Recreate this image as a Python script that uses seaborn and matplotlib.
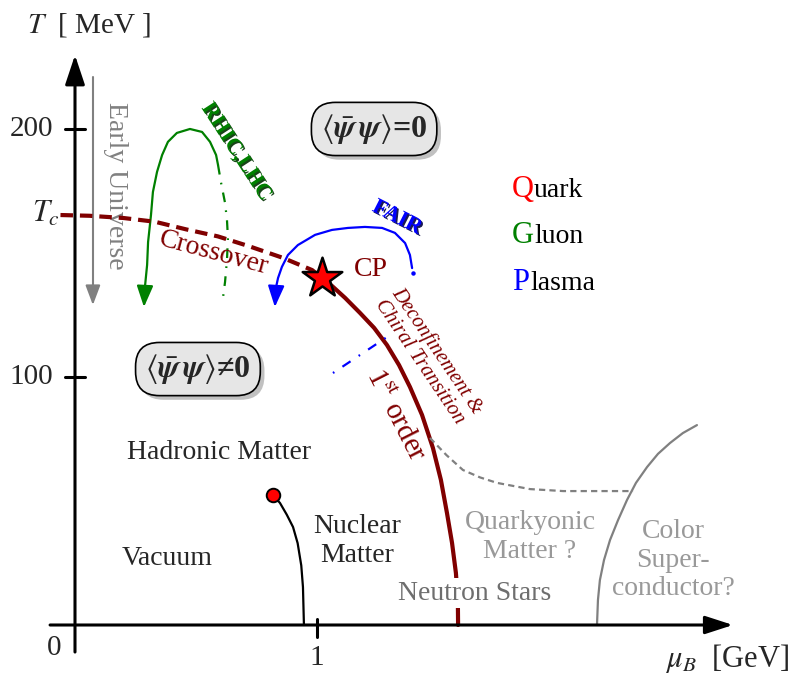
import matplotlib
matplotlib.use("Agg")
import matplotlib.pyplot as plt
import matplotlib.patheffects as pe
import seaborn as sns

# ---------------- data (mu_B in GeV, T in MeV) -------------
crossover_mu = [-0.06, 0.06, 0.20, 0.33, 0.46, 0.59, 0.72, 0.86, 0.98, 1.02]
crossover_T = [165.3, 165.0, 164.1, 162.6, 159.5, 156.7, 152.7, 148.0, 143.1, 140.0]

cp_mu = [1.02]
cp_T = [140.0]

first_order_mu = [1.021, 1.062, 1.116, 1.178, 1.236, 1.289, 1.339, 1.384, 1.434,
                  1.479, 1.512, 1.537, 1.558, 1.574, 1.582, 1.583]
first_order_T = [139.9, 136.7, 131.9, 125.8, 119.8, 112.9, 104.8, 96.0, 84.7,
                 71.4, 58.5, 45.2, 33.1, 21.0, 10.1, 0.0]

nuclear_mu = [0.818, 0.847, 0.875, 0.901, 0.920, 0.935, 0.942, 0.946]
nuclear_T = [52.4, 49.2, 44.5, 39.5, 33.0, 24.0, 15.3, 0.0]

quarkyonic_mu = [1.467, 1.535, 1.603, 1.674, 1.744, 1.880, 2.017, 2.306]
quarkyonic_T = [75.4, 68.5, 62.5, 59.5, 57.3, 54.8, 54.0, 54.0]

csc_mu = [2.157, 2.161, 2.169, 2.186, 2.211, 2.244, 2.281, 2.318, 2.364, 2.409,
          2.459, 2.512, 2.570]
csc_T = [0.0, 10.1, 18.1, 26.2, 34.3, 42.3, 50.4, 57.3, 63.7, 69.0, 73.4, 77.4, 80.6]

rhic_mu = [0.591, 0.583, 0.558, 0.525, 0.475, 0.421, 0.384, 0.360, 0.339, 0.322,
           0.314, 0.302, 0.298, 0.289]
rhic_T = [185.5, 189.5, 194.8, 198.8, 200.0, 198.4, 194.8, 189.5, 182.7, 174.6,
          165.3, 154.4, 145.2, 136.3]
rhic_tip = (0.285, 128.2)
rhic_tail_mu = [0.591, 0.603, 0.620, 0.628, 0.632, 0.628, 0.620, 0.612]
rhic_tail_T = [185.5, 178.6, 170.2, 163.3, 156.0, 147.2, 138.3, 132.3]

fair_mu = [1.393, 1.384, 1.364, 1.322, 1.269, 1.198, 1.128, 1.062, 0.992, 0.921,
           0.880, 0.855, 0.839, 0.831]
fair_T = [143.9, 149.2, 154.0, 158.1, 160.1, 160.5, 160.1, 159.3, 157.3, 153.2,
          149.2, 144.4, 139.9, 136.3]
fair_tip = (0.826, 128.2)
fair_dot = (1.397, 141.9)
fair_tail_mu = [1.066, 1.289]
fair_tail_T = [101.6, 116.1]

early_mu = 0.074
early_T = (221.0, 129.0)

T_ticks = [100, 200]
T_tick_labels = ["100", "200"]
mu_ticks = [1]
Tc_value = 165.3

# ---------------- style ----------------
sns.set_style("white")
plt.rcParams["font.family"] = ["Liberation Serif", "DejaVu Serif"]
plt.rcParams["mathtext.fontset"] = "stix"
plt.rcParams["lines.scale_dashes"] = False

DARKRED = "#800000"
GREEN = "#008000"
BLUE = "#0000ff"
GRAY = "#808080"
LGRAY = "#999999"

fig = plt.figure(figsize=(8.01, 6.75), dpi=100)
ax = fig.add_axes([0, 0, 1, 1])
ax.set_xlim(-0.3099, 3.0)
ax.set_ylim(-20.16, 252.0)
ax.axis("off")


def curve(x, y, **kw):
    sns.lineplot(x=x, y=y, sort=False, estimator=None, ax=ax, **kw)
    line = ax.lines[-1]
    line.set_solid_joinstyle("round")
    line.set_dash_joinstyle("round")
    return line


def arrow(p0, p1, color, hl, hw, lw, z=3):
    ax.annotate("", xy=p1, xytext=p0,
                arrowprops=dict(arrowstyle=f"-|>,head_length={hl},head_width={hw}",
                                color=color, lw=lw, shrinkA=0, shrinkB=0,
                                mutation_scale=1), zorder=z)


# axes with arrows
arrow((-0.103, 0), (2.719, 0), "black", 17, 5.5, 2.2)
arrow((0, -10.9), (0, 229.8), "black", 18, 6, 2.2)
for t in T_ticks:
    ax.plot([-0.041, 0.041], [t, t], color="black", lw=2.2)
for m in mu_ticks:
    ax.plot([m, m], [2.4, -4.8], color="black", lw=2.2)

for t, lab in zip(T_ticks, T_tick_labels):
    ax.text(-0.091, t, lab, ha="right", va="center", fontsize=21)
ax.text(-0.087, -9.3, "0", ha="center", va="center", fontsize=21)
ax.text(mu_ticks[0], -13.3, "1", ha="center", va="center", fontsize=21)
ax.text(-0.062, Tc_value - 2.8, r"$T_c$", ha="right", va="baseline", fontsize=22)
ax.text(-0.198, 238.7, r"$T$  [ MeV ]", ha="left", va="baseline", fontsize=21)
ax.text(2.44, -16.9, r"$\mu_{B}$  [GeV]", ha="left", va="baseline", fontsize=22)

# Early universe arrow
ax.plot([early_mu, early_mu], [early_T[0], 136], color=GRAY, lw=1.5)
arrow((early_mu, 137), (early_mu, early_T[1]), GRAY, 12, 4.5, 1.5)
ax.text(0.169, 177.0, "Early Universe", rotation=-90, ha="center", va="center",
        fontsize=20, color=GRAY)

# crossover
l = curve(crossover_mu, crossover_T, color=DARKRED, lw=3, zorder=4)
l.set_dashes([9, 5])
ax.text(0.574, 150.0, "Crossover", rotation=-15, ha="center", va="center",
        fontsize=20, color=DARKRED)

# first order
curve(first_order_mu, first_order_T, color=DARKRED, lw=3, zorder=2)
ax.text(1.322, 84.3, r"1$^{\rm st}$ order", rotation=-63, ha="center", va="center",
        fontsize=21, color=DARKRED)
ax.text(1.459, 108.3, "Deconfinement &\nChiral Transition", rotation=-56,
        ha="center", va="center", fontsize=15, style="italic", color=DARKRED,
        linespacing=1.1)

# nuclear liquid-gas
curve(nuclear_mu, nuclear_T, color="black", lw=1.6)
sns.scatterplot(x=[nuclear_mu[0]], y=[nuclear_T[0]], ax=ax, s=95, color="red",
                edgecolor="black", linewidth=1.4, zorder=6)

# quarkyonic & CSC
l = curve(quarkyonic_mu, quarkyonic_T, color=GRAY, lw=1.6)
l.set_dashes([4.5, 3])
curve(csc_mu, csc_T, color=GRAY, lw=1.6)

# RHIC/LHC
curve(rhic_mu, rhic_T, color=GREEN, lw=1.6, zorder=3)
arrow((rhic_mu[-1], rhic_T[-1]), rhic_tip, GREEN, 13, 5, 1.6)
l = curve(rhic_tail_mu, rhic_tail_T, color=GREEN, lw=1.6)
l.set_dashes([7, 6, 1.2, 6])
ax.text(0.665, 190.7, "RHIC,LHC", rotation=-57, ha="center", va="center",
        fontsize=16, fontweight="bold", color=GREEN,
        path_effects=[pe.withSimplePatchShadow(offset=(1.2, -1.2), shadow_rgbFace="#003000", alpha=0.9)])

# FAIR
curve(fair_mu, fair_T, color=BLUE, lw=1.6, zorder=3)
arrow((fair_mu[-1], fair_T[-1]), fair_tip, BLUE, 13, 5, 1.6)
ax.plot([fair_dot[0]], [fair_dot[1]], "o", color=BLUE, ms=2.2)
l = curve(fair_tail_mu, fair_tail_T, color=BLUE, lw=1.6)
l.set_dashes([1.2, 7, 7, 7])
ax.text(1.331, 164.1, "FAIR", rotation=-27, ha="center", va="center",
        fontsize=16, fontweight="bold", color=BLUE,
        path_effects=[pe.withSimplePatchShadow(offset=(1.2, -1.2), shadow_rgbFace="#000040", alpha=0.9)])

# critical point
sns.scatterplot(x=cp_mu, y=cp_T, ax=ax, marker="*", s=900, color="red",
                edgecolor="black", linewidth=1.8, zorder=7)
ax.text(1.153, 143.5, "CP", ha="left", va="center", fontsize=20, color=DARKRED)

# condensate boxes
for (bx, by, txt) in [(1.236, 200.0, r"$\langle\bar{\boldsymbol{\psi}}\,\boldsymbol{\psi}\rangle$=0"),
                      (0.508, 103.2, r"$\langle\bar{\boldsymbol{\psi}}\,\boldsymbol{\psi}\rangle$≠0")]:
    t = ax.text(bx, by, txt, ha="center", va="center", fontsize=23, fontweight="bold",
                bbox=dict(boxstyle="round,pad=0.3,rounding_size=0.75", fc="#e6e6e6",
                          ec="black", lw=1.2))
    t.get_bbox_patch().set_path_effects(
        [pe.withSimplePatchShadow(offset=(3, -3), shadow_rgbFace="#999999", alpha=0.6)])

# QGP
for (yb, first, rest, col, xr) in [(172.6, "Q", "uark", "red", 1.897),
                                   (154.0, "G", "luon", GREEN, 1.897),
                                   (135.1, "P", "lasma", BLUE, 1.880)]:
    ax.text(1.806, yb, first, ha="left", va="baseline", fontsize=22, color=col)
    ax.text(xr, yb, rest, ha="left", va="baseline", fontsize=20, color="black")

# region labels
ax.text(0.595, 69.4, "Hadronic Matter", ha="center", va="center", fontsize=20)
ax.text(0.380, 27.0, "Vacuum", ha="center", va="center", fontsize=20)
ax.text(1.165, 33.9, "Nuclear\nMatter", ha="center", va="center", fontsize=20)
ax.text(1.653, 12.9, "Neutron Stars", ha="center", va="center", fontsize=20,
        color="#6e6e6e", bbox=dict(fc="white", ec="none", pad=2), zorder=5)
ax.text(1.880, 35.5, "Quarkyonic\nMatter ?", ha="center", va="center", fontsize=20,
        color=LGRAY)
ax.text(2.471, 26.2, "Color\nSuper-\nconductor?", ha="center", va="center",
        fontsize=20, color=LGRAY)

fig.savefig("out.png", dpi=100)
